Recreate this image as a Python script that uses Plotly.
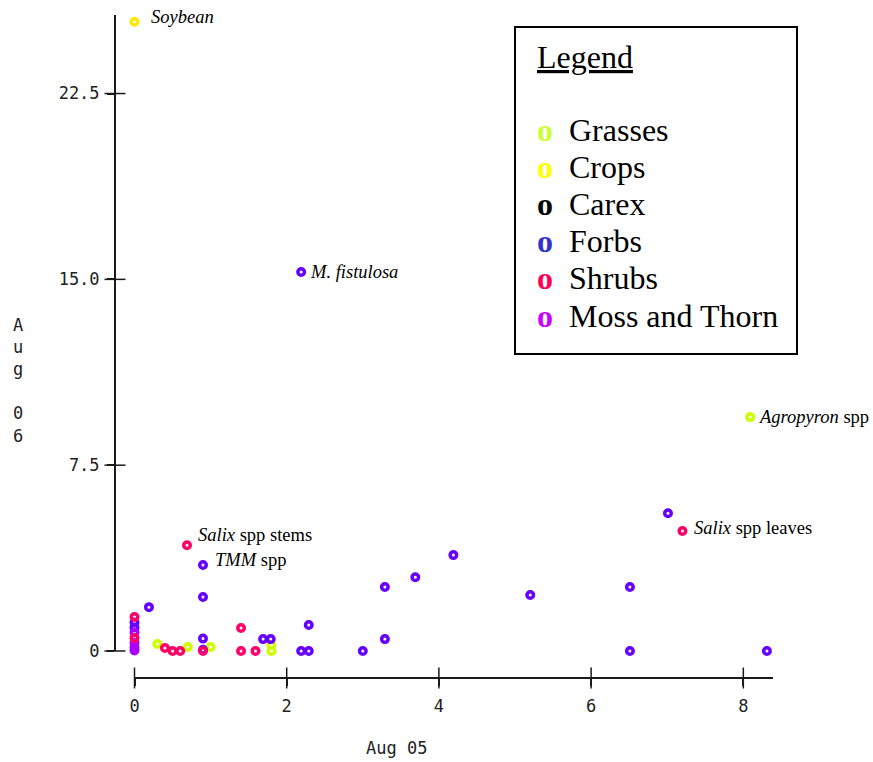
import plotly.graph_objects as go

# Aug 05 (x) vs Aug 06 (y) values for each plant group
grasses_x = [0.3, 0.7, 1.0, 1.8, 1.8, 8.09]
grasses_y = [0.28, 0.16, 0.16, 0.24, 0.0, 9.44]

crops_x = [0.0]
crops_y = [25.4]

carex_x = []
carex_y = []

forbs_x = [2.19, 0.9, 7.01, 4.19, 3.69, 3.29, 5.2, 6.51, 0.9, 0.19, 2.29,
           1.69, 1.79, 0.9, 3.29, 2.19, 2.29, 3.0, 6.51, 8.31, 0.0, 0.0, 0.9]
forbs_y = [15.3, 3.47, 5.56, 3.87, 2.98, 2.58, 2.26, 2.58, 2.18, 1.77, 1.05,
           0.48, 0.48, 0.5, 0.48, 0.0, 0.0, 0.0, 0.0, 0.0, 1.15, 0.95, 0.05]

moss_x = [0.0, 0.0, 0.0, 0.0]
moss_y = [0.75, 0.32, 0.15, 0.02]

shrubs_x = [7.2, 0.69, 1.4, 0.4, 0.5, 0.6, 0.9, 1.4, 1.59, 0.0, 0.0]
shrubs_y = [4.84, 4.27, 0.93, 0.12, 0.0, 0.0, 0.0, 0.0, 0.0, 1.37, 0.52]

x_ticks = [0, 2, 4, 6, 8]
y_ticks = [0, 7.5, 15.0, 22.5]
y_tick_text = ["0", "7.5", "15.0", "22.5"]

groups = [
    ("Grasses", grasses_x, grasses_y, "#ccff00", "#ccff33"),
    ("Crops", crops_x, crops_y, "#ffe800", "#ffff00"),
    ("Carex", carex_x, carex_y, "#000000", "#000000"),
    ("Forbs", forbs_x, forbs_y, "#6600ff", "#3333cc"),
    ("Moss and Thorn", moss_x, moss_y, "#aa00ff", "#cc00ff"),
    ("Shrubs", shrubs_x, shrubs_y, "#ff0066", "#ff0055"),
]
legend_order = ["Grasses", "Crops", "Carex", "Forbs", "Shrubs", "Moss and Thorn"]

# (group, index into that group's arrays, label, x shift, y shift)
point_labels = [
    ("Crops", 0, "<i>Soybean</i>", 14, 5),
    ("Forbs", 0, "<i>M. fistulosa</i>", 7, 0),
    ("Grasses", 5, "<i>Agropyron</i> spp", 6, 0),
    ("Shrubs", 0, "<i>Salix</i> spp leaves", 10, 3),
    ("Shrubs", 1, "<i>Salix</i> spp stems", 9, 10),
    ("Forbs", 1, "<i>TMM</i> spp", 10, 5),
]

# page geometry (pixels)
L, R, T, B = 100, 773, 15, 690          # plot area
DATA_LEFT, DATA_BOTTOM = 134.5, 651     # where x = 0 and y = 0 fall
Y_AXIS_PX, X_AXIS_PX = 115, 678         # offset axis lines
W_PX, H_PX = R - L, B - T


def px_x(px):
    return (px - L) / W_PX


def px_y(py):
    return (B - py) / H_PX


X_RANGE = [0, 8.39]
Y_RANGE = [0, 25.67]
X_DOMAIN = [px_x(DATA_LEFT), 1]
Y_DOMAIN = [px_y(DATA_BOTTOM), 1]
AXIS_COLOR = "#1a1a1a"
MONO = dict(family="DejaVu Sans Mono", size=17, color="#222222")
SERIF = "Liberation Serif"

# a full-area twin coordinate system with the same scale, used for the
# tick marks that cross the offset axis lines
x_per_px = (X_RANGE[1] - X_RANGE[0]) / (R - DATA_LEFT)
y_per_px = (Y_RANGE[1] - Y_RANGE[0]) / (DATA_BOTTOM - T)
X2_RANGE = [X_RANGE[0] - (DATA_LEFT - L) * x_per_px, X_RANGE[1]]
Y2_RANGE = [Y_RANGE[0] - (B - DATA_BOTTOM) * y_per_px, Y_RANGE[1]]
y_axis_at_x = X_RANGE[0] - (DATA_LEFT - Y_AXIS_PX) * x_per_px
x_axis_at_y = Y_RANGE[0] - (X_AXIS_PX - DATA_BOTTOM) * y_per_px

fig = go.Figure()

for name, xs, ys, color, _ in groups:
    fig.add_trace(go.Scatter(
        x=xs, y=ys, mode="markers", name=name,
        marker=dict(symbol="circle-open", size=6.5, color=color,
                    line=dict(width=3.5, color=color)),
        cliponaxis=False, showlegend=False, hoverinfo="x+y+name",
    ))

tick_marker = dict(size=15, color=AXIS_COLOR,
                   line=dict(width=1.5, color=AXIS_COLOR))
fig.add_trace(go.Scatter(
    x=x_ticks, y=[x_axis_at_y] * len(x_ticks), xaxis="x2", yaxis="y2",
    mode="markers", marker=dict(symbol="line-ns-open", **tick_marker),
    cliponaxis=False, showlegend=False, hoverinfo="skip",
))
fig.add_trace(go.Scatter(
    x=[y_axis_at_x] * len(y_ticks), y=y_ticks, xaxis="x2", yaxis="y2",
    mode="markers", marker=dict(symbol="line-ew-open", **tick_marker),
    cliponaxis=False, showlegend=False, hoverinfo="skip",
))

lookup = {g[0]: g for g in groups}
for name, idx, text, dx, dy in point_labels:
    g = lookup[name]
    fig.add_annotation(
        x=g[1][idx], y=g[2][idx], text=text, showarrow=False,
        xanchor="left", yanchor="middle", xshift=dx, yshift=dy,
        font=dict(family=SERIF, size=18.5, color="black"),
    )

# legend box: frame plus one text line per entry
fig.add_shape(type="rect", xref="paper", yref="paper",
              x0=px_x(515), x1=px_x(797), y0=px_y(354), y1=px_y(27),
              line=dict(color="black", width=2), fillcolor="white", layer="above")
fig.add_annotation(xref="paper", yref="paper", x=px_x(535), y=px_y(57),
                   xanchor="left", yanchor="middle", showarrow=False,
                   text="<u>Legend</u>",
                   font=dict(family=SERIF, size=32, color="black"))
colors = {g[0]: g[4] for g in groups}
line_centres = [130, 167, 204, 241, 278, 316]
for name, cy in zip(legend_order, line_centres):
    fig.add_annotation(
        xref="paper", yref="paper", x=px_x(535), y=px_y(cy),
        xanchor="left", yanchor="middle", showarrow=False,
        text=f"<span style='color:{colors[name]}'><b>o</b></span>&nbsp;&nbsp;{name}",
        font=dict(family=SERIF, size=32, color="black"),
    )

# axis titles
fig.add_annotation(
    xref="paper", yref="paper", x=px_x(396), y=px_y(748), showarrow=False,
    text="Aug 05", font=MONO, xanchor="center", yanchor="middle",
)
fig.add_annotation(
    xref="paper", yref="paper", x=px_x(18), y=px_y(380), showarrow=False,
    text="<br>".join(list("Aug") + ["&nbsp;"] + list("06")),
    font=MONO, xanchor="center", yanchor="middle",
)

fig.update_layout(
    width=873, height=762,
    margin=dict(l=L, r=873 - R, t=T, b=762 - B),
    paper_bgcolor="white", plot_bgcolor="rgba(0,0,0,0)",
    showlegend=False,
    xaxis=dict(range=X_RANGE, domain=X_DOMAIN, anchor="free",
               position=px_y(X_AXIS_PX),
               tickvals=x_ticks, showgrid=False, zeroline=False,
               showline=True, linecolor=AXIS_COLOR, linewidth=2,
               ticks="outside", ticklen=7, tickwidth=1.5, tickcolor=AXIS_COLOR,
               tickfont=MONO, ticklabelstandoff=6),
    yaxis=dict(range=Y_RANGE, domain=Y_DOMAIN, anchor="free",
               position=px_x(Y_AXIS_PX),
               tickvals=y_ticks, ticktext=y_tick_text, showgrid=False,
               zeroline=False, showline=True, linecolor=AXIS_COLOR, linewidth=2,
               ticks="outside", ticklen=7, tickwidth=1.5, tickcolor=AXIS_COLOR,
               tickfont=MONO, ticklabelstandoff=4),
    xaxis2=dict(range=X2_RANGE, domain=[0, 1], anchor="y2", visible=False),
    yaxis2=dict(range=Y2_RANGE, domain=[0, 1], anchor="x2", visible=False),
)

fig.write_html("out.html")
